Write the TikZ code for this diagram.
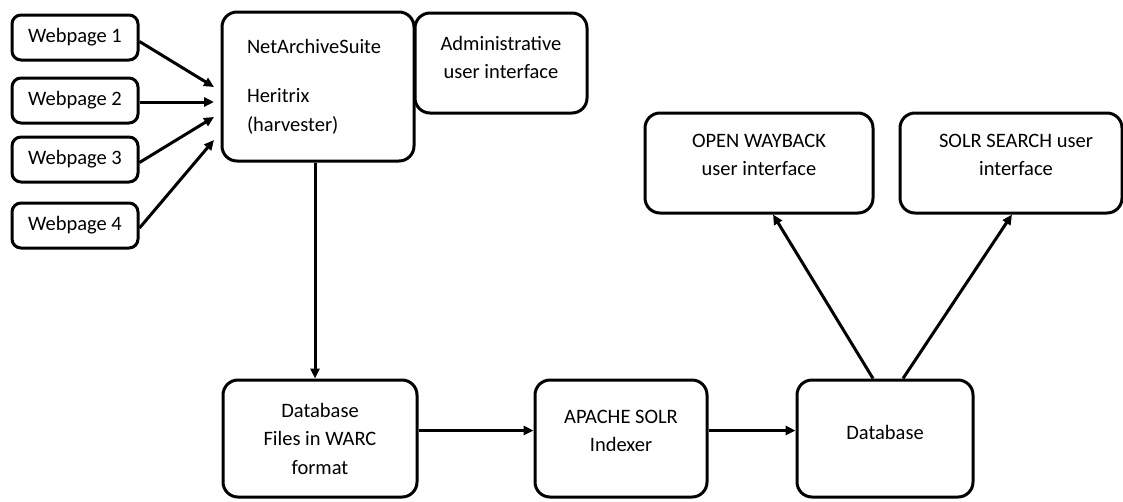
\documentclass[tikz,border=0pt]{standalone}
\usepackage{fontspec}
\setmainfont{Carlito}
\usetikzlibrary{arrows.meta}
\tikzset{
  box/.style={draw, line width=3pt, rounded corners=15pt, inner sep=0pt, align=center},
  page/.style={box, rounded corners=9pt, minimum width=126pt, minimum height=45pt},
  flow/.style={line width=3pt, -{Triangle[length=10pt,width=9pt]}}
}
\begin{document}
\begin{tikzpicture}[x=1pt,y=-1pt,font=\fontsize{20.5}{28.5}\selectfont]
\useasboundingbox (0,0) rectangle (1123,501);
%%Webpages
\draw (75,37.5) node[page] (wp1) {Webpage 1};
\draw (75,100.5) node[page] (wp2) {Webpage 2};
\draw (75,159.5) node[page] (wp3) {Webpage 3};
\draw (75,225.5) node[page] (wp4) {Webpage 4};

%%Harvester
\draw (318,86.5) node[box, minimum width=192pt, minimum height=149pt,
  text width=142pt, inner xsep=25pt, align=left] (nas)
  {NetArchiveSuite\\[21pt]Heritrix\\(harvester)};
\draw (501,63) node[box, minimum width=172pt, minimum height=100pt,
  label={[align=center, yshift=5.5pt]center:Administrative\\user interface}] (adm) {};

%%User interfaces
\draw (759,163) node[box, minimum width=228pt, minimum height=100pt,
  label={[align=center, yshift=8pt]center:OPEN WAYBACK\\user interface}] (wb) {};
\draw (1011,163) node[box, minimum width=222pt, minimum height=100pt,
  label={[align=center, xshift=5pt, yshift=8pt]center:SOLR SEARCH user\\interface}] (ss) {};

%%Storage and index
\draw (320,438.5) node[box, minimum width=194pt, minimum height=117pt] (fdb)
  {Database\\Files in WARC\\format};
\draw (621,438.5) node[box, minimum width=172pt, minimum height=117pt,
  label={[align=center, yshift=7.5pt]center:APACHE SOLR\\Indexer}] (solr) {};
\draw (885,438.5) node[box, minimum width=176pt, minimum height=117pt,
  label={[yshift=6.5pt]center:Database}] (db) {};

%%Arrows
\coordinate (in1) at (214,87);
\coordinate (in2) at (214,102);
\coordinate (in3) at (214,117);
\coordinate (in4) at (214,140);
\draw[flow] ([yshift=-4pt]wp1.east) -- (in1);
\draw[flow] ([yshift=-1.5pt]wp2.east) -- (in2);
\draw[flow] ([yshift=-3pt]wp3.east) -- (in3);
\draw[flow] ([yshift=-2.5pt]wp4.east) -- (in4);

\draw[flow] ([xshift=-3pt]nas.south) -- ([xshift=-3pt]nas.south |- fdb.north);
\draw[flow] ([yshift=8pt]fdb.east) -- ([yshift=8pt]fdb.east -| solr.west);
\draw[flow] ([yshift=8pt]solr.east) -- ([yshift=8pt]solr.east -| db.west);
\draw[flow] ([xshift=-12pt]db.north) -- ([xshift=14pt]wb.south);
\draw[flow] ([xshift=18pt]db.north) -- ([xshift=1pt]ss.south);
\end{tikzpicture}
\end{document}
